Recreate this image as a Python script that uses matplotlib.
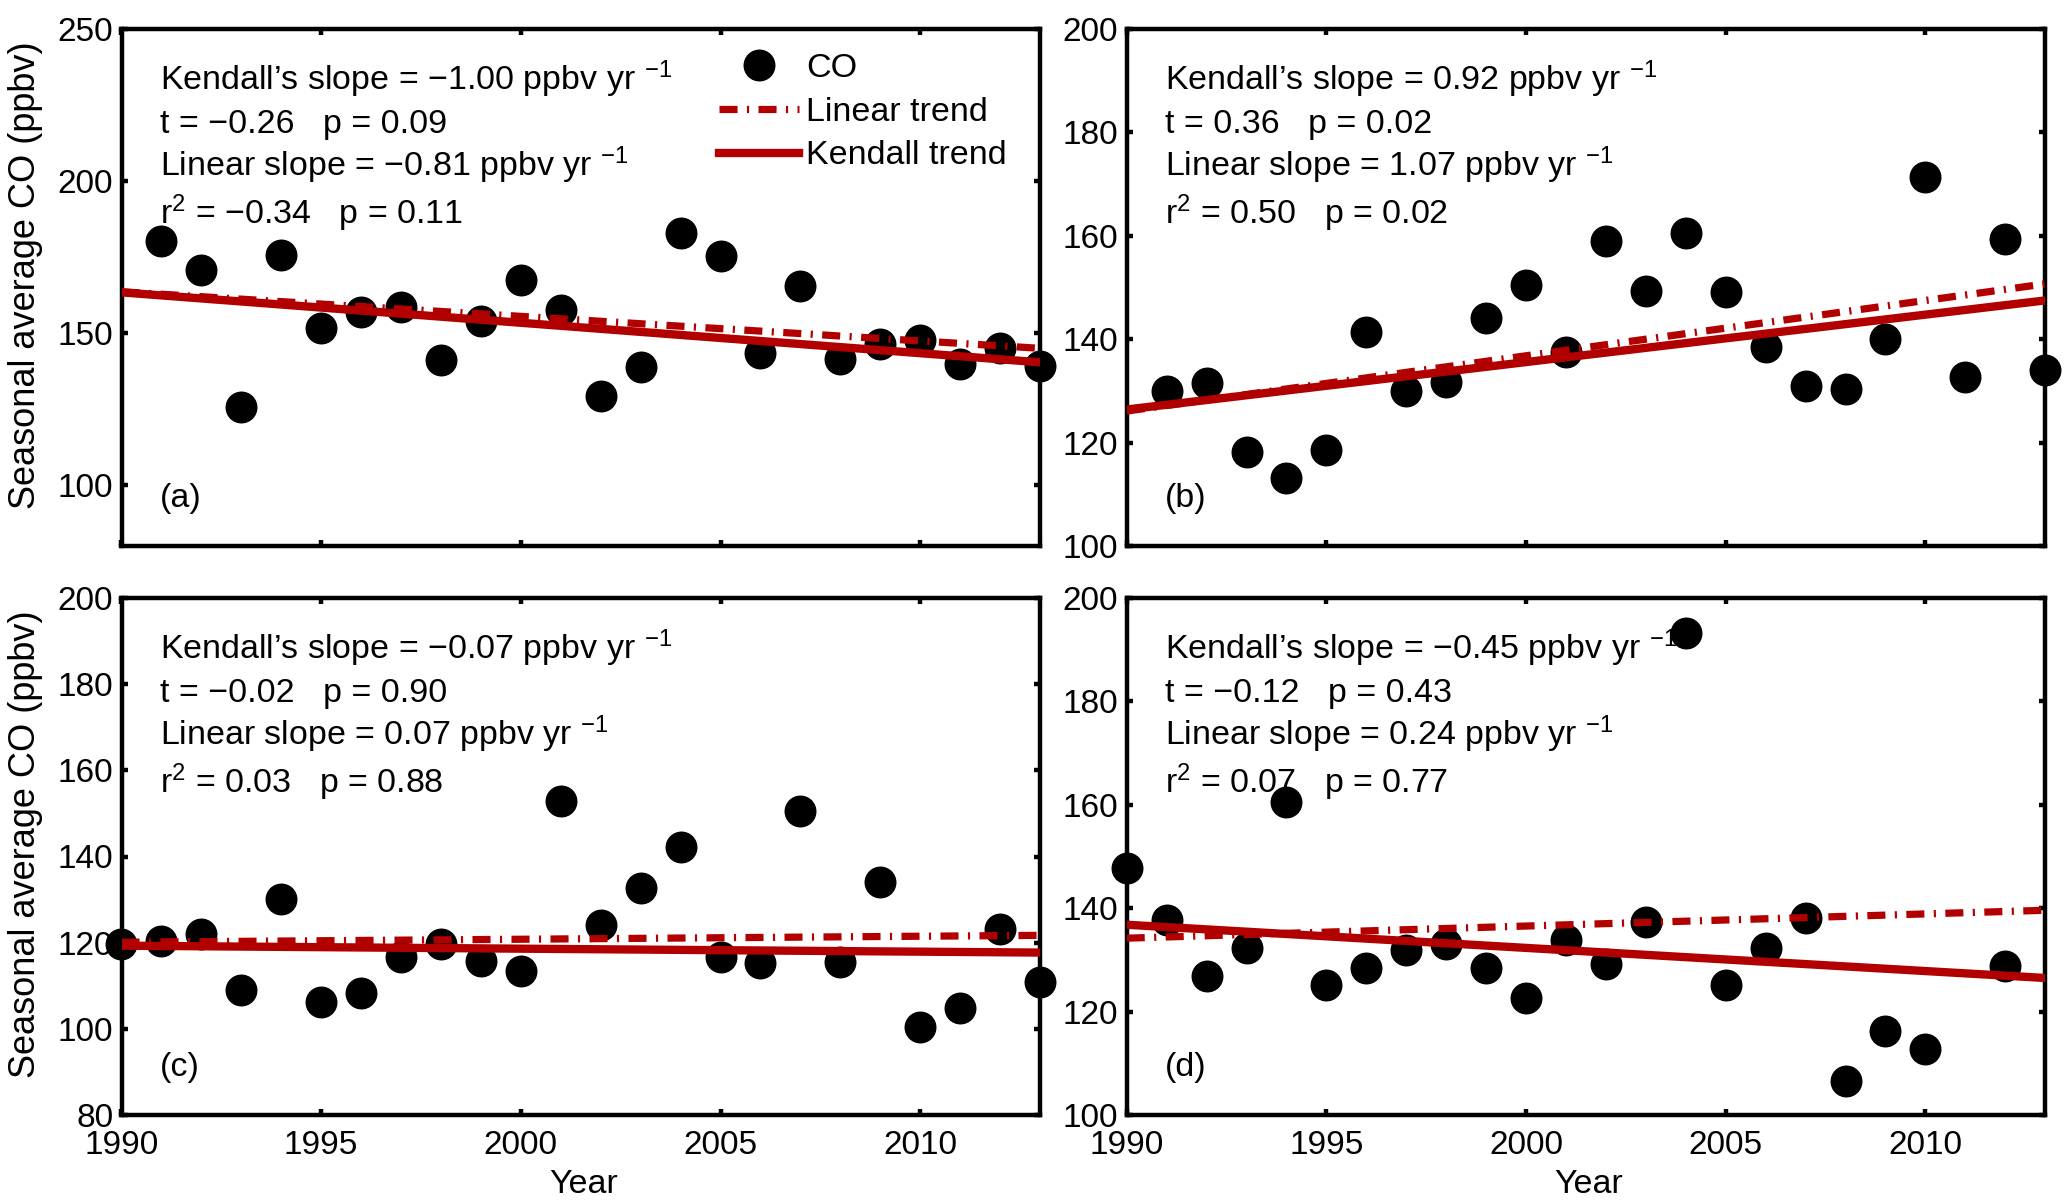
import numpy as np
import matplotlib
matplotlib.use('Agg')
import matplotlib.pyplot as plt

plt.rcParams['font.family'] = ['Liberation Sans', 'DejaVu Sans']
plt.rcParams['mathtext.fontset'] = 'custom'
plt.rcParams['mathtext.rm'] = 'Liberation Sans'
plt.rcParams['mathtext.it'] = 'Liberation Sans'
plt.rcParams['mathtext.default'] = 'regular'

# ---------------- data ----------------
years_a = list(range(1991, 2014))
co_a = [180.3, 170.9, 125.8, 175.8, 151.6, 156.9, 158.5, 141.2, 153.9, 167.4, 157.5,
        129.4, 138.9, 183.0, 175.5, 143.4, 165.5, 141.6, 146.4, 147.9, 140.0, 145.0, 139.1]

years_b = list(range(1991, 2014))
co_b = [129.9, 131.6, 118.2, 113.2, 118.6, 141.3, 130.0, 131.8, 144.1, 150.4, 137.6,
        158.9, 149.3, 160.5, 149.1, 138.4, 130.9, 130.4, 140.0, 171.3, 132.7, 159.3, 134.1]

years_c = list(range(1990, 2014))
co_c = [119.7, 120.4, 122.1, 109.0, 130.2, 106.2, 108.4, 116.6, 119.8, 115.7, 113.5, 152.8,
        124.0, 132.8, 142.3, 116.6, 115.2, 150.6, 115.5, 134.0, 100.5, 104.8, 123.1, 110.9]

years_d = list(range(1990, 2011)) + [2012]
co_d = [147.7, 137.8, 126.9, 132.3, 160.6, 125.2, 128.5, 131.9, 133.0, 128.5, 122.7,
        133.9, 129.2, 137.4, 193.3, 125.1, 132.3, 138.2, 106.5, 116.2, 112.8, 128.9]

trend_years = [1990, 2013]
kendall_a = [163.4, 140.4]
linear_a = [163.6, 145.0]
kendall_b = [126.4, 147.5]
linear_b = [126.1, 150.7]
kendall_c = [119.3, 117.7]
linear_c = [120.1, 121.7]
kendall_d = [136.8, 126.5]
linear_d = [134.2, 139.6]

stats_a = ["Kendall\u2019s slope = \u22121.00 ppbv yr $^{-1}$",
           "t = \u22120.26   p = 0.09",
           "Linear slope = \u22120.81 ppbv yr $^{-1}$",
           "r$^{2}$ = \u22120.34   p = 0.11"]
stats_b = ["Kendall\u2019s slope = 0.92 ppbv yr $^{-1}$",
           "t = 0.36   p = 0.02",
           "Linear slope = 1.07 ppbv yr $^{-1}$",
           "r$^{2}$ = 0.50   p = 0.02"]
stats_c = ["Kendall\u2019s slope = \u22120.07 ppbv yr $^{-1}$",
           "t = \u22120.02   p = 0.90",
           "Linear slope = 0.07 ppbv yr $^{-1}$",
           "r$^{2}$ = 0.03   p = 0.88"]
stats_d = ["Kendall\u2019s slope = \u22120.45 ppbv yr $^{-1}$",
           "t = \u22120.12   p = 0.43",
           "Linear slope = 0.24 ppbv yr $^{-1}$",
           "r$^{2}$ = 0.07   p = 0.77"]

panel_labels = ["(a)", "(b)", "(c)", "(d)"]
ylims = [(80, 250), (100, 200), (80, 200), (100, 200)]
yticks = [[100, 150, 200, 250], [100, 120, 140, 160, 180, 200],
          [80, 100, 120, 140, 160, 180, 200], [100, 120, 140, 160, 180, 200]]
xticks = [1990, 1995, 2000, 2005, 2010]
xlim = (1990, 2013)
legend_labels = ["CO", "Linear trend", "Kendall trend"]
ylabel = "Seasonal average CO (ppbv)"
xlabel = "Year"

# ---------------- figure ----------------
W, H = 2067, 1204
fig = plt.figure(figsize=(W / 100, H / 100), dpi=100)
red = '#B20000'
aw, ah = 918.5, 517
boxes = [(121.5, 29), (1126.7, 29), (121.5, 598), (1126.7, 598)]

panels = [
    (years_a, co_a, kendall_a, linear_a, stats_a),
    (years_b, co_b, kendall_b, linear_b, stats_b),
    (years_c, co_c, kendall_c, linear_c, stats_c),
    (years_d, co_d, kendall_d, linear_d, stats_d),
]

text_y = [0.882, 0.799, 0.716, 0.623]
FS = 24.5

for i, (yrs, co, ken, lin, stats) in enumerate(panels):
    l, t = boxes[i]
    ax = fig.add_axes([l / W, 1 - (t + ah) / H, aw / W, ah / H])
    ax.plot(yrs, co, 'o', color='k', ms=22, clip_on=False, zorder=2, label=legend_labels[0])
    ax.plot(trend_years, lin, color=red, lw=5.2, ls=(0, (2.5, 1.3, 0.3, 1.3)),
            zorder=3, label=legend_labels[1])
    ax.plot(trend_years, ken, color=red, lw=6, ls='-', zorder=4, label=legend_labels[2])
    ax.set_xlim(*xlim)
    ax.set_ylim(*ylims[i])
    ax.set_xticks(xticks)
    ax.set_yticks(yticks[i])
    for sp in ax.spines.values():
        sp.set_linewidth(3.2)
    ax.tick_params(which='both', direction='in', length=4.5, width=3.2,
                   top=True, right=True, labelsize=24)
    ax.tick_params(axis='x', pad=11)
    ax.tick_params(axis='y', pad=6)
    if i < 2:
        ax.set_xticklabels([])
    else:
        ax.set_xlabel(xlabel, fontsize=FS)
        ax.xaxis.set_label_coords(0.503, -0.104)
    if i % 2 == 0:
        ax.set_ylabel(ylabel, fontsize=26)
        ax.yaxis.set_label_coords(-0.0855, 0.524)
    for s, yy in zip(stats, text_y):
        ax.text(0.042, yy, s, transform=ax.transAxes, fontsize=FS,
                ha='left', va='baseline', zorder=6)
    ax.text(0.042, 0.076, panel_labels[i], transform=ax.transAxes, fontsize=FS,
            ha='left', va='baseline')
    if i == 0:
        ax.legend(loc='upper left', bbox_to_anchor=(0.6505, 0.953), frameon=False,
                  fontsize=FS, handlelength=2.35, handletextpad=0.22,
                  labelspacing=0.37, borderpad=0, borderaxespad=0)

fig.savefig('out.png', dpi=100)
